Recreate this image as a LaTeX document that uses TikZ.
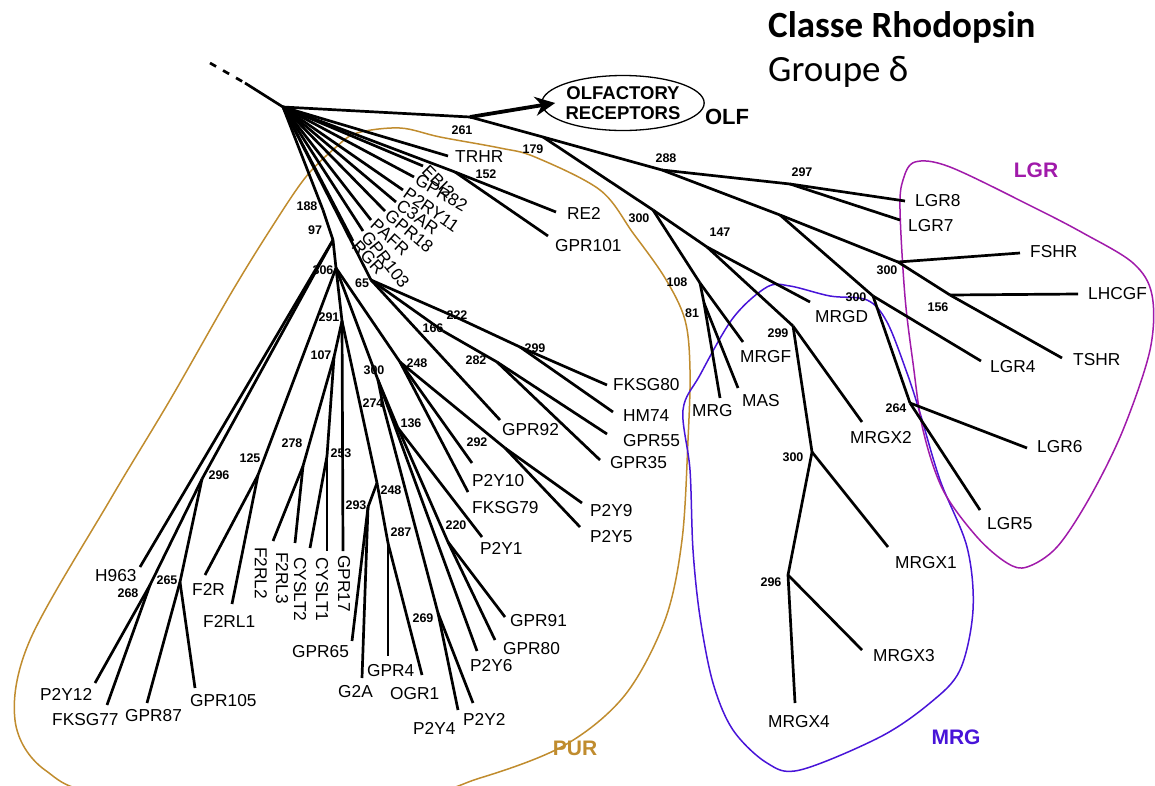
\documentclass[tikz,border=0pt]{standalone}
\usepackage{fontspec}
\usetikzlibrary{arrows.meta,shapes.geometric}
\newfontfamily\arialf{Liberation Sans}
\newfontfamily\calib{Carlito}
\definecolor{purcol}{RGB}{192,140,46}
\definecolor{mrgcol}{RGB}{72,20,216}
\definecolor{lgrcol}{RGB}{160,26,170}
\begin{document}
\begin{tikzpicture}[x=1pt, y=-1pt,
  br/.style={line width=2.7pt},
  lf/.style={font=\arialf\fontsize{17.3}{19}\selectfont, inner sep=0pt, anchor=west},
  bs/.style={font=\arialf\bfseries\fontsize{12.5}{14}\selectfont, inner sep=0pt},
  grp/.style={font=\arialf\bfseries\fontsize{21}{24}\selectfont, inner sep=0pt},
  hull/.style={line width=1.5pt, smooth cycle, tension=0.55}]
\useasboundingbox (0,0) rectangle (1155,785);

% title
\node[font=\calib\bfseries\fontsize{37}{40}\selectfont, anchor=base west, inner sep=0pt] (title) at (768,37) {Classe Rhodopsin};
\node[font=\calib\fontsize{37}{40}\selectfont, anchor=base west, inner sep=0pt] (group) at (768,81) {Groupe δ};

% group outlines
\draw[purcol, hull] plot coordinates {(357,133) (400,128) (440,137) (500,148) (535,157) (600,190) (633,233) (665,278) (685,320) (690,370) (688,440) (682,540) (665,620) (625,695) (565,745) (480,778) (400,795) (120,795) (45,770) (15,720) (30,640) (110,500) (170,400) (230,295) (270,230) (305,178) (335,148)};
\draw[mrgcol, hull] plot coordinates {(683,410) (700,375) (733,318) (767,287) (790,286) (830,296) (867,300) (887,322) (907,373) (920,413) (940,480) (967,547) (973,610) (960,670) (930,703) (880,737) (800,770) (767,763) (733,730) (713,683) (700,617) (693,550) (690,470)};
\draw[lgrcol, hull] plot coordinates {(900,210) (903,180) (915,162) (950,167) (1033,207) (1083,233) (1133,263) (1152,295) (1150,350) (1123,430) (1090,497) (1057,547) (1027,567) (1007,563) (977,537) (943,490) (923,430) (913,363) (905,297)};
\node[grp, purcol] (pur) at (575,748) {PUR};
\node[grp, mrgcol] (mrg) at (956,737) {MRG};
\node[grp, lgrcol] (lgr) at (1036,170) {LGR};
\node[grp, font=\arialf\bfseries\fontsize{22}{24}\selectfont] (olflab) at (727,117) {OLF};

% root and olfactory receptors
\node[draw, ellipse, line width=1.3pt, minimum width=139pt, minimum height=55pt, inner sep=0pt,
  font=\arialf\bfseries\fontsize{18.5}{20}\selectfont, align=center] (olf) at (623,103) {OLFACTORY\\RECEPTORS};
\coordinate (n0) at (283,107);
\coordinate (dash) at (210,63);
\draw[br, dash pattern=on 7pt off 8pt] (dash) -- (245,83);
\draw[br] (245,83) -- (n0);

% internal nodes
\foreach \n/\x/\y in {n261/470/117, n179/543/137, n288/662/170, n297/790/184, nx/780/215,
  n300f/898/262, n156/950/295, n300g/873/296, n264/910/403, n300m/653/210, n147/707/247,
  n299m/793/326, n300x/812/452, n296m/788/575, n108/700/283, n81/704/303, n152/455/172,
  n188/323/210, n97/333/240, n65/371/280, n306/336/268, n296p/202/479, n268/150/585,
  n265/180/582, n125/258/475, n291/342/321, n107/334/357, n278/303/466, n253/327/456,
  n293/368/507, n248b/377/483, n287/388/543, n300a/378/380, n274/383/405, n269/438/613,
  n136/398/428, n220/448/542, n248a/400/362, n292/505/448, n222/460/319, n299p/520/347,
  n166/443/331, n282/497/362}
  \coordinate (\n) at (\x,\y);

% leaf ends
\foreach \n/\x/\y in {LGR8/905/201, LGR7/900/220, FSHR/1020/253, LHCGF/1078/294,
  TSHR/1062/358, LGR4/981/361, LGR6/1027/448, LGR5/980/510, MRGD/810/302, MRGX2/862/422,
  MRGX1/888/547, MRGX3/862/650, MRGX4/795/703, MRGF/743/342, MRG/720/398, MAS/738/388,
  TRHR/448/156, RE2/556/212, GPR101/548/236, H963/140/567, P2Y12/95/683, FKSG77/107/705,
  GPR87/147/703, GPR105/195/688, F2R/205/575, F2RL1/232/604, F2RL2/273/541, F2RL3/295/543,
  CYSLT2/310/548, CYSLT1/327/551, GPR17/343/551, GPR65/352/641, G2A/362/678, GPR4/388/656,
  OGR1/422/675, P2Y4/458/710, P2Y2/473/703, P2Y6/477/651, P2Y1/482/537, GPR91/505/617,
  GPR80/495/640, P2Y10/472/463, FKSG79/468/492, P2Y9/582/503, P2Y5/580/527,
  FKSG80/607/385, HM74/613/412, GPR55/607/434, GPR35/600/460, GPR92/500/420,
  EBI2/423/166, GPR82/414/177, P2RY11/403/190, C3AR/396/202, GPR18/385/211,
  PAFR/371/220, GPR103/363/231, RGR/353/241}
  \coordinate (e\n) at (\x,\y);

% branches
\foreach \a/\b in {n0/n261, n261/n179, n179/n288, n288/n297, n297/eLGR8, n297/eLGR7,
  n288/nx, nx/n300f, n300f/eFSHR, n300f/n156, n156/eLHCGF, n156/eTSHR, nx/n300g,
  n300g/eLGR4, n300g/n264, n264/eLGR6, n264/eLGR5, n179/n300m, n300m/n147, n147/eMRGD,
  n147/n299m, n299m/eMRGX2, n299m/n300x, n300x/eMRGX1, n300x/n296m, n296m/eMRGX3,
  n296m/eMRGX4, n300m/n108, n108/eMRGF, n108/n81, n81/eMRG, n81/eMAS,
  n0/eTRHR, n0/n152, n152/eRE2, n152/eGPR101, n0/eEBI2, n0/eGPR82, n0/eP2RY11, n0/eC3AR,
  n0/eGPR18, n0/ePAFR, n0/eGPR103, n0/eRGR,
  n0/n188, n188/n97, n0/n65, n97/eH963, n97/n296p, n296p/n268, n268/eP2Y12, n268/eFKSG77,
  n296p/n265, n265/eGPR87, n265/eGPR105, n97/n306, n306/n125, n125/eF2R, n125/eF2RL1,
  n306/n291, n291/n107, n107/n278, n278/eF2RL2, n278/eF2RL3, n107/n253, n253/eCYSLT2,
  n253/eCYSLT1, n291/eGPR17, n291/n248b, n248b/n293, n293/eGPR65, n293/eG2A, n248b/n287,
  n287/eGPR4, n287/eOGR1, n306/n300a, n300a/n274, n274/n269, n269/eP2Y4, n269/eP2Y2,
  n300a/eP2Y6, n300a/n136, n136/eP2Y1, n136/n220, n220/eGPR91, n220/eGPR80,
  n306/n248a, n248a/eP2Y10, n248a/eFKSG79, n248a/n292, n292/eP2Y9, n292/eP2Y5,
  n65/n222, n222/n299p, n299p/eFKSG80, n299p/eHM74, n65/n166, n166/n282, n282/eGPR55,
  n282/eGPR35, n65/eGPR92}
  \draw[br] (\a) -- (\b);
\draw[line width=3.8pt, -{Stealth[length=20pt, width=19pt]}] (n261) -- ([xshift=14pt]olf.west);

% leaf labels
\foreach \t/\x/\y in {LGR8/915/201, LGR7/908/226, FSHR/1030/252, LHCGF/1088/294,
  TSHR/1073/360, LGR4/990/367, LGR6/1037/447, LGR5/987/524, MRGD/815/317, MRGX2/850/438,
  MRGX1/895/563, MRGX3/873/656, MRGX4/768/722, MRGF/740/357, MRG/692/411, MAS/742/401,
  TRHR/455/157, RE2/567/213, GPR101/555/246, H963/95/576, P2Y12/40/694, FKSG77/52/720,
  GPR87/125/716, GPR105/190/701, F2R/192/589, F2RL1/203/621, GPR65/292/652, G2A/338/692,
  GPR4/367/671, OGR1/390/694, P2Y4/413/728, P2Y2/463/719, P2Y6/470/666, P2Y1/480/548,
  GPR91/510/621, GPR80/503/649, P2Y10/472/481, FKSG79/472/508, P2Y9/590/511,
  P2Y5/590/537, FKSG80/613/385, HM74/623/416, GPR55/623/441, GPR35/610/463, GPR92/502/430}
  \node[lf] (l\t) at (\x,\y) {\t};
\foreach \t/\x/\y in {F2RL2/261/547, F2RL3/282/552, CYSLT2/300/557, CYSLT1/322/557, GPR17/344/555}
  \node[lf, rotate=-90] (l\t) at (\x,\y) {\t};
\foreach \t/\a in {EBI2/45, GPR82/30, P2RY11/35, C3AR/35, GPR18/40, PAFR/42, GPR103/52, RGR/47}
  \node[lf, rotate=-\a] (l\t) at ([shift={(-\a:3pt)}]e\t) {\t};

% bootstrap values
\foreach \v/\x/\y [count=\i] in {261/462/130, 179/533/149, 288/666/158, 297/802/172,
  300/887/270, 156/938/307, 300/856/297, 264/896/408, 300/639/218, 147/720/232, 108/677/282,
  81/692/313, 299/778/333, 300/793/457, 296/771/582, 152/486/174, 188/307/206, 97/315/230,
  306/323/270, 65/362/283, 222/457/315, 166/433/328, 299/535/348, 282/476/360, 248/417/363,
  291/329/317, 107/321/355, 300/374/370, 274/373/403, 136/411/423, 292/477/442, 278/292/443,
  253/341/453, 125/250/458, 296/219/475, 268/128/593, 265/167/580, 248/391/490, 293/356/505,
  287/401/532, 220/456/525, 269/423/618}
  \node[bs] (bs\i) at (\x,\y) {\v};
\end{tikzpicture}
\end{document}
